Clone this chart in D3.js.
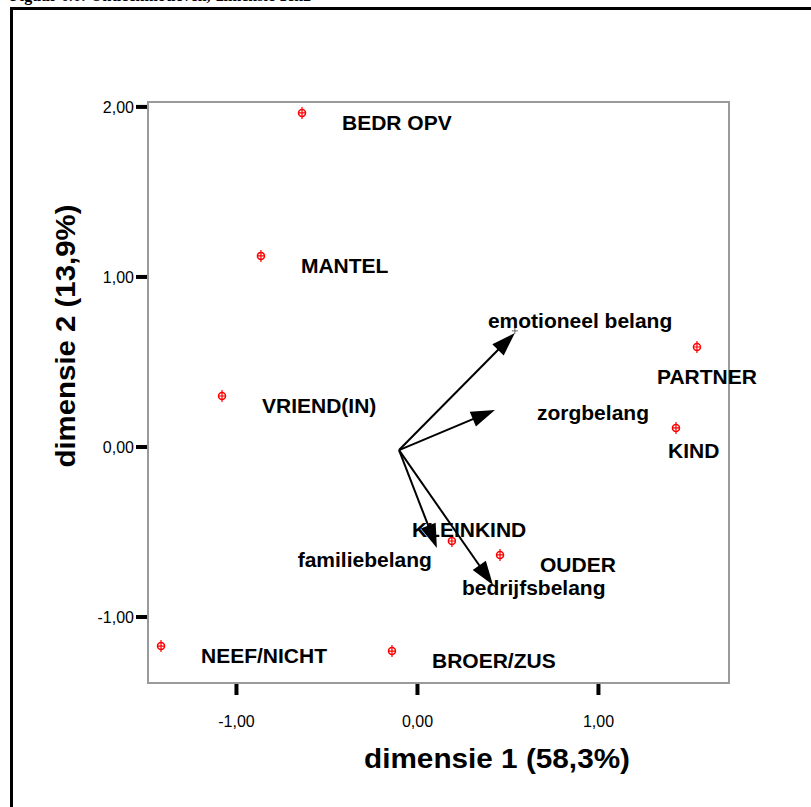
<!DOCTYPE html>
<html>
<head>
<meta charset="utf-8">
<script src="https://cdn.jsdelivr.net/npm/d3@7"></script>
<style>
  body { margin: 0; background: #fff; }
  svg { display: block; font-family: "Liberation Sans", Arial, sans-serif; }
</style>
</head>
<body>
<script>
// category points (dimension 1, dimension 2)
var pointNames = ["BEDR OPV", "MANTEL", "VRIEND(IN)", "PARTNER", "KIND", "KLEINKIND", "OUDER", "NEEF/NICHT", "BROER/ZUS"];
var pointDim1 = [-0.635, -0.862, -1.077, 1.547, 1.431, 0.193, 0.459, -1.414, -0.138];
var pointDim2 = [1.962, 1.121, 0.297, 0.585, 0.109, -0.556, -0.638, -1.174, -1.203];

// motive vectors, all starting from one origin
var vectorNames = ["emotioneel belang", "zorgbelang", "familiebelang", "bedrijfsbelang"];
var vectorDim1 = [0.541, 0.431, 0.110, 0.420];
var vectorDim2 = [0.668, 0.215, -0.597, -0.815];
var vectorOrigin = [-0.099, -0.021];

var xTicks = [-1, 0, 1];
var yTicks = [-1, 0, 1, 2];
var xTitle = "dimensie 1 (58,3%)";
var yTitle = "dimensie 2 (13,9%)";
var caption = "Figuur 6.6:   Ontleenmotieven, dimensie 1en2";

var w = 811, h = 807;
var margin = {top: 102, right: 82, bottom: 124, left: 148};

var svg = d3.select("body").append("svg")
  .attr("width", w)
  .attr("height", h);

// scales
var x_scale = d3.scaleLinear()
  .domain([-1.486, 1.724])
  .range([margin.left, w - margin.right]);

var y_scale = d3.scaleLinear()
  .domain([-1.391, 2.026])
  .range([h - margin.bottom, margin.top]);

// caption at the top, mostly cut off like in the scan
svg.append("text")
  .attr("x", 10)
  .attr("y", 1)
  .style("font-family", "'Liberation Serif', serif")
  .style("font-weight", "bold")
  .style("font-size", "16px")
  .text(caption);

// outer frame (only left and top edges show)
svg.append("path")
  .attr("d", "M11.5," + (h + 5) + "V8.5H" + (w + 5))
  .attr("fill", "none")
  .attr("stroke", "#000")
  .attr("stroke-width", 3);

// plot frame
svg.append("rect")
  .attr("x", margin.left)
  .attr("y", margin.top)
  .attr("width", w - margin.left - margin.right)
  .attr("height", h - margin.top - margin.bottom)
  .attr("fill", "none")
  .attr("stroke", "#9a9a9a")
  .attr("stroke-width", 2);

var fmt = function(d) { return d3.format(".2f")(d).replace(".", ",").replace("\u2212", "-"); };

// axes
var xAxis = d3.axisBottom(x_scale)
  .tickValues(xTicks)
  .tickFormat(fmt)
  .tickSize(11)
  .tickPadding(21);

var yAxis = d3.axisLeft(y_scale)
  .tickValues(yTicks)
  .tickFormat(fmt)
  .tickSize(11)
  .tickPadding(2);

var gX = svg.append("g")
  .attr("transform", "translate(0," + (h - margin.bottom + 1) + ")")
  .call(xAxis);

var gY = svg.append("g")
  .attr("transform", "translate(" + (margin.left - 1) + ",0)")
  .call(yAxis);

[gX, gY].forEach(function(g) {
  g.select(".domain").remove();
  g.selectAll(".tick line").attr("stroke", "#000").attr("stroke-width", 4);
  g.selectAll(".tick text")
    .attr("fill", "#000")
    .style("font-size", "16px")
    .style("font-family", "'Liberation Sans', Arial, sans-serif");
});
gY.selectAll(".tick text").attr("dy", "0.35em");

// axis titles
svg.append("text")
  .attr("x", 497)
  .attr("y", 768)
  .attr("text-anchor", "middle")
  .attr("textLength", 266)
  .attr("lengthAdjust", "spacingAndGlyphs")
  .style("font-weight", "bold")
  .style("font-size", "28px")
  .text(xTitle);

svg.append("text")
  .attr("transform", "translate(75,336) rotate(-90)")
  .attr("text-anchor", "middle")
  .attr("textLength", 263)
  .attr("lengthAdjust", "spacingAndGlyphs")
  .style("font-weight", "bold")
  .style("font-size", "28px")
  .text(yTitle);

// vectors
var vectors = vectorNames.map(function(n, i) {
  return {name: n, d1: vectorDim1[i], d2: vectorDim2[i]};
});
var labelShiftV = [[-27, -5, "start"], [42, 10, "start"], [-5, 19, "end"], [-31, 10, "start"]];

var ox = x_scale(vectorOrigin[0]), oy = y_scale(vectorOrigin[1]);
var headLen = 24, headHalf = 8;

var vg = svg.append("g");
vectors.forEach(function(v, i) {
  var tx = x_scale(v.d1), ty = y_scale(v.d2);
  var dx = tx - ox, dy = ty - oy;
  var len = Math.sqrt(dx * dx + dy * dy);
  var ux = dx / len, uy = dy / len;
  var bx = tx - ux * headLen, by = ty - uy * headLen;

  vg.append("line")
    .attr("x1", ox).attr("y1", oy)
    .attr("x2", bx + ux * 2).attr("y2", by + uy * 2)
    .attr("stroke", "#000")
    .attr("stroke-width", 2);

  vg.append("path")
    .attr("d", "M" + tx + "," + ty +
      "L" + (bx - uy * headHalf) + "," + (by + ux * headHalf) +
      "L" + (bx + uy * headHalf) + "," + (by - ux * headHalf) + "Z")
    .attr("fill", "#000");

  vg.append("text")
    .attr("x", tx + labelShiftV[i][0])
    .attr("y", ty + labelShiftV[i][1])
    .attr("text-anchor", labelShiftV[i][2])
    .style("font-weight", "bold")
    .style("font-size", "21px")
    .text(v.name);
});

// small cross near emotioneel belang tip
svg.append("path")
  .attr("d", "M" + (x_scale(vectorDim1[0]) - 3) + "," + (y_scale(vectorDim2[0]) - 2) + "h6" +
    "M" + x_scale(vectorDim1[0]) + "," + (y_scale(vectorDim2[0]) - 5) + "v6")
  .attr("stroke", "#666")
  .attr("stroke-width", 1);

// points
var points = pointNames.map(function(n, i) {
  return {name: n, d1: pointDim1[i], d2: pointDim2[i]};
});
var labelShiftP = {"PARTNER": [-40, 37], "KIND": [-8, 30], "KLEINKIND": [-40, -4]};

var pg = svg.selectAll(".pt")
  .data(points)
  .enter()
  .append("g")
  .attr("class", "pt")
  .attr("transform", function(d) {
    return "translate(" + x_scale(d.d1) + "," + y_scale(d.d2) + ")";
  });

pg.append("circle")
  .attr("r", 3.5)
  .attr("fill", "none")
  .attr("stroke", "#ff0000")
  .attr("stroke-width", 1.5);

pg.append("path")
  .attr("d", "M0,-6V6M-3.5,0H3.5")
  .attr("stroke", "#ff0000")
  .attr("stroke-width", 1.2);

pg.append("text")
  .attr("x", function(d) { return (labelShiftP[d.name] || [40, 17])[0]; })
  .attr("y", function(d) { return (labelShiftP[d.name] || [40, 17])[1]; })
  .style("font-weight", "bold")
  .style("font-size", "21px")
  .text(function(d) { return d.name; });
</script>
</body>
</html>
